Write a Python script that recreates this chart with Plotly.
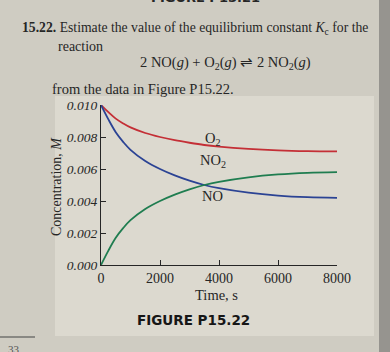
import plotly.graph_objects as go

# data (time in s, concentration in M)
time_s = [0, 250, 500, 750, 1000, 1500, 2000, 2500, 3000, 3500, 4000, 5000, 6000, 7000, 8000]
no2 = [0.0, 0.0009, 0.0017, 0.0023, 0.0028, 0.0035, 0.0040, 0.0044, 0.00473, 0.00500, 0.00520, 0.00548, 0.00566, 0.00576, 0.0058]
no = [0.0100, 0.0091, 0.0083, 0.0077, 0.0072, 0.0065, 0.0060, 0.0056, 0.00527, 0.00500, 0.00480, 0.00452, 0.00434, 0.00424, 0.0042]
o2 = [0.0100, 0.00955, 0.00915, 0.00885, 0.0086, 0.00825, 0.0080, 0.0078, 0.00764, 0.00750, 0.00740, 0.00726, 0.00717, 0.00712, 0.0071]
x_ticks = [0, 2000, 4000, 6000, 8000]
x_tick_labels = ["0", "2000", "4000", "6000", "8000"]
y_ticks = [0.000, 0.002, 0.004, 0.006, 0.008, 0.010]
y_tick_labels = ["0.000", "0.002", "0.004", "0.006", "0.008", "0.010"]

W, H = 390, 352
L, R, T, B = 101, 337, 105, 265
SERIF = "Liberation Serif"
INK = "#262626"

def px(x):
    return (x - L) / (R - L)

def py(y):
    return (B - y) / (B - T)

fig = go.Figure()
for ys, col in [(o2, "#c42f36"), (no, "#2b4394"), (no2, "#1f7d50")]:
    fig.add_trace(go.Scatter(x=time_s, y=ys, mode="lines",
                             line=dict(color=col, width=1.8, shape="spline"),
                             showlegend=False, hoverinfo="skip"))

fig.update_layout(
    width=W, height=H,
    margin=dict(l=L, r=W - R, t=T, b=H - B),
    paper_bgcolor="#cfccc2", plot_bgcolor="rgba(0,0,0,0)",
    font=dict(family=SERIF, color=INK),
    xaxis=dict(range=[0, 8000], tickvals=x_ticks, ticktext=x_tick_labels,
               showgrid=False, zeroline=False, showline=True, linecolor=INK,
               linewidth=1.2, ticks="inside", ticklen=5, tickcolor=INK,
               tickfont=dict(size=14, family=SERIF, color=INK)),
    yaxis=dict(range=[0, 0.010], tickvals=y_ticks,
               ticktext=["<i>%s</i>" % t for t in y_tick_labels],
               showgrid=False, zeroline=False, showline=True, linecolor=INK,
               linewidth=1.2, ticks="inside", ticklen=5, tickcolor=INK,
               tickfont=dict(size=13.5, family=SERIF, color=INK)),
)

ann = []
def text(x, y, s, size=14, xanchor="center", family=SERIF, color=INK, angle=0):
    ann.append(dict(xref="paper", yref="paper", x=px(x), y=py(y), text=s, showarrow=False,
                    xanchor=xanchor, yanchor="middle", textangle=angle,
                    font=dict(size=size, family=family, color=color)))

text(205, -3, "<b>FIGURE P15.21</b>", size=13, family="DejaVu Sans")
text(20, 29, "<b>15.22.</b> Estimate the value of the equilibrium constant <i>K</i><sub>c</sub> for the",
     size=13.7, xanchor="left")
text(56, 46, "reaction", size=14, xanchor="left")
text(225, 63, "2 NO(<i>g</i>) + O<sub>2</sub>(<i>g</i>) \u21cc 2 NO<sub>2</sub>(<i>g</i>)", size=14.5)
text(50, 89, "from the data in Figure P15.22.", size=14.5, xanchor="left")

text(213, 139, "O<sub>2</sub>", size=14.5)
text(213, 161, "NO<sub>2</sub>", size=14.5)
text(212, 196, "NO", size=14.5)

text(56, 187, "Concentration, <i>M</i>", size=14, angle=-90)
text(216, 295, "Time, s", size=14.5)
text(193, 320, "<b>FIGURE P15.22</b>", size=13.5, family="DejaVu Sans", color="#161616")
text(14, 349, "33", size=11, color="#555555")

fig.update_layout(annotations=ann)
fig.add_shape(type="rect", xref="paper", yref="paper", x0=px(55), x1=px(374), y0=py(96), y1=py(336),
              line=dict(width=0), fillcolor="#dcd9cf", layer="below")
fig.add_shape(type="line", xref="paper", yref="paper", x0=px(0), x1=px(35), y0=py(337), y1=py(337),
              line=dict(color="#444444", width=1.2))
fig.add_shape(type="rect", xref="paper", yref="paper", x0=px(379), x1=px(392), y0=py(-2), y1=py(354),
              line=dict(width=0), fillcolor="#96948f", layer="below")

fig.write_html("out.html")
